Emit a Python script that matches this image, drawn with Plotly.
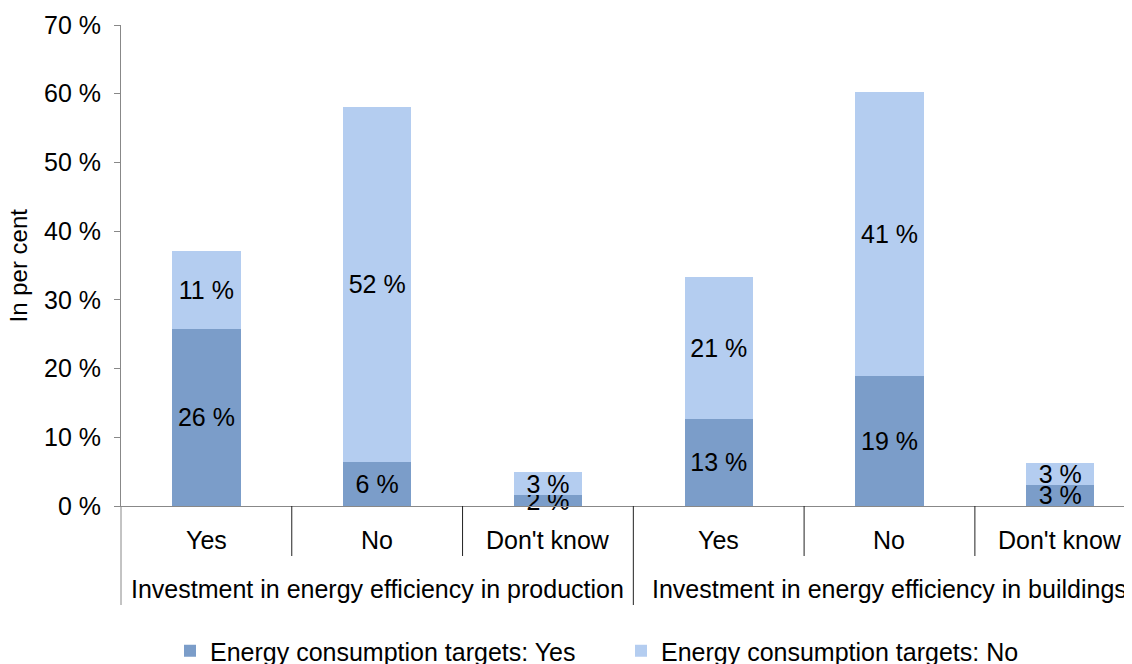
import plotly.graph_objects as go

groups = ["Investment in energy efficiency in production"] * 3 + ["Investment in energy efficiency in buildings"] * 3
answers = ["Yes", "No", "Don't know"] * 2
targets_yes = [25.8, 6.4, 1.6, 12.7, 18.9, 3.1]
targets_no = [11.3, 51.7, 3.3, 20.6, 41.4, 3.2]
series_names = ["Energy consumption targets: Yes", "Energy consumption targets: No"]
colors = ["#7b9dc9", "#b4cdf0"]
y_title = "In per cent"

FONT = "Liberation Sans, Arial, sans-serif"
FS = 25

# the page body adds an 8px offset, so the figure is made 8px smaller
W, H = 1124, 656
ML, MT, MB = 113, 17, 158
plot_w = W - ML
plot_h = H - MT - MB

fig = go.Figure()
for name, vals, col in zip(series_names, [targets_yes, targets_no], colors):
    fig.add_trace(go.Bar(
        x=[groups, answers], y=vals, name=name, marker=dict(color=col, line=dict(width=0)),
        width=0.4, text=vals, texttemplate="%{y:.0f} %", textposition="inside",
        insidetextanchor="middle", textfont=dict(color="black", size=FS, family=FONT),
        cliponaxis=False,
    ))

n = len(answers)
x0, x1 = -0.5, n - 0.58


def px(v):
    return (v - x0) / (x1 - x0)


def py(pixels_below):
    return -pixels_below / plot_h


shapes = []
annotations = []
# inner category labels and dividers
for i, a in enumerate(answers):
    annotations.append(dict(text=a, xref="paper", yref="paper", x=px(i), y=py(34),
                            xanchor="center", yanchor="middle", showarrow=False,
                            font=dict(size=FS, family=FONT, color="black")))
    if i < n - 1 and groups[i] == groups[i + 1]:
        shapes.append(dict(type="line", xref="paper", yref="paper", x0=px(i + 0.5), x1=px(i + 0.5),
                           y0=0, y1=py(50), line=dict(color="#222222", width=1)))
# group labels and dividers
start = 0
for i in range(1, n + 1):
    if i == n or groups[i] != groups[start]:
        annotations.append(dict(text=groups[start], xref="paper", yref="paper",
                                x=px((start + i - 1) / 2), y=py(83),
                                xanchor="center", yanchor="middle", showarrow=False,
                                font=dict(size=FS, family=FONT, color="black")))
        shapes.append(dict(type="line", xref="paper", yref="paper", x0=px(start - 0.5), x1=px(start - 0.5),
                           y0=0, y1=py(99), line=dict(color="#222222" if start else "#888888", width=1)))
        start = i

annotations.append(dict(text=y_title, xref="paper", yref="paper", x=(18 - 121) / plot_w, y=0.5,
                        xanchor="center", yanchor="middle", textangle=-90, showarrow=False,
                        borderpad=0, font=dict(size=24, family=FONT, color="black")))

fig.update_layout(
    width=W, height=H,
    margin=dict(l=ML, r=0, t=MT, b=MB, autoexpand=False),
    paper_bgcolor="white", plot_bgcolor="white",
    barmode="stack",
    font=dict(family=FONT, size=FS, color="black"),
    uniformtext=dict(mode="show", minsize=FS),
    showlegend=True,
    legend=dict(orientation="h", x=(170 - 121) / plot_w, xanchor="left", y=py(145), yanchor="middle",
                font=dict(size=FS), itemwidth=30, traceorder="normal", entrywidth=406),
    xaxis=dict(type="multicategory", range=[x0, x1], showline=True, linecolor="#888888", linewidth=1,
               ticks="", showdividers=False, showticklabels=False, showgrid=False, automargin=False),
    yaxis=dict(range=[0, 70], dtick=10, ticksuffix=" %", showline=True, linecolor="#888888", linewidth=1,
               ticks="outside", ticklen=6, tickcolor="#888888", showgrid=False, zeroline=False,
               tickfont=dict(size=FS), automargin=False, ticklabelstandoff=8),
    shapes=shapes,
    annotations=annotations,
)

fig.write_html("out.html")
